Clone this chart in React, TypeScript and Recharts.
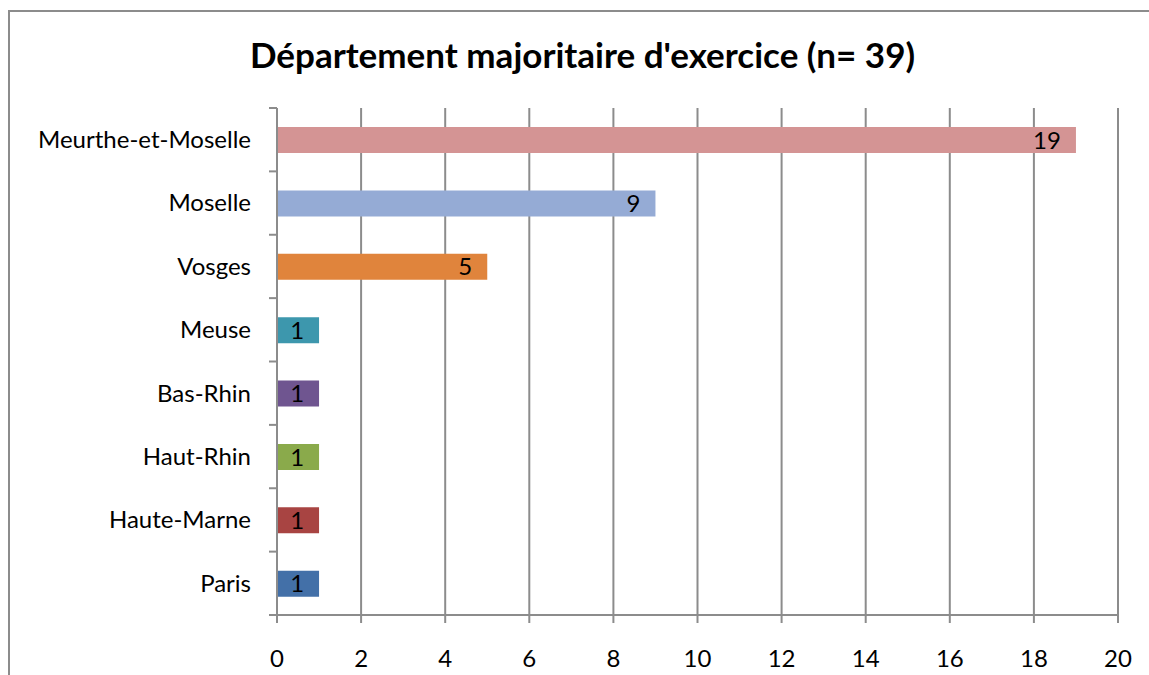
import React from 'react';
import { BarChart, Bar, XAxis, YAxis, CartesianGrid, Cell, LabelList } from 'recharts';

const categories = ['Meurthe-et-Moselle', 'Moselle', 'Vosges', 'Meuse', 'Bas-Rhin', 'Haut-Rhin', 'Haute-Marne', 'Paris'];
const values = [19, 9, 5, 1, 1, 1, 1, 1];
const colors = ['#D49494', '#95ABD5', '#E0843C', '#3D97AD', '#6F5590', '#8AAA4B', '#A84442', '#4370A8'];
const xTicks = [0, 2, 4, 6, 8, 10, 12, 14, 16, 18, 20];
const title = "Département majoritaire d'exercice (n= 39)";

const data = categories.map((name, i) => ({ name, value: values[i] }));

const FONT = 'Lato, "Open Sans", sans-serif';
const AXIS = '#8C8C8C';

const YTick = (props: any) => {
  const { x, y, payload, index, visibleTicksCount } = props;
  const half = payload && typeof payload.offset === 'number' && payload.offset > 0 ? payload.offset : 31.6;
  const lineX1 = x + 18;
  const lineX2 = x + 26;
  const last = index === (visibleTicksCount ?? categories.length) - 1;
  return (
    <g>
      <line x1={lineX1} x2={lineX2} y1={y - half} y2={y - half} stroke={AXIS} strokeWidth={2} />
      {last && <line x1={lineX1} x2={lineX2} y1={y + half} y2={y + half} stroke={AXIS} strokeWidth={2} />}
      <text x={x} y={y} dy="0.35em" textAnchor="end" fontFamily={FONT} fontSize={24} fill="#000">
        {payload.value}
      </text>
    </g>
  );
};

const BarLabel = (props: any) => {
  const { x, y, width, height, value } = props;
  return (
    <text x={x + width - 15} y={y + height / 2} dy="0.36em" textAnchor="end" fontFamily={FONT} fontSize={24} fill="#000">
      {value}
    </text>
  );
};

export default function App() {
  return (
    <div style={{ position: 'absolute', left: 0, top: 0, width: 1149, height: 675, background: '#fff' }}>
      <div style={{ position: 'absolute', left: 8, top: 10, width: 1141, height: 665, borderLeft: '2px solid #8C8C8C', borderTop: '2px solid #8C8C8C', boxSizing: 'border-box' }} />
      <div style={{ position: 'absolute', left: 0, top: 32, width: 1165, textAlign: 'center', fontFamily: FONT, fontWeight: 700, fontSize: 35, lineHeight: '44px', color: '#000' }}>
        {title}
      </div>
      <div style={{ position: 'absolute', left: 0, top: 0 }}>
        <BarChart
          width={1149}
          height={675}
          data={data}
          layout="vertical"
          margin={{ top: 108, right: 31, bottom: 0, left: 0 }}
          barCategoryGap={0}
        >
          <CartesianGrid horizontal={false} vertical={true} stroke={AXIS} strokeWidth={2} />
          <XAxis
            type="number"
            domain={[0, 20]}
            ticks={xTicks}
            interval={0}
            height={60}
            axisLine={{ stroke: AXIS, strokeWidth: 2 }}
            tickLine={{ stroke: AXIS, strokeWidth: 2 }}
            tickSize={8}
            tickMargin={27}
            tick={{ fontFamily: FONT, fontSize: 24, fill: '#000' }}
          />
          <YAxis
            type="category"
            dataKey="name"
            width={277}
            interval={0}
            axisLine={{ stroke: AXIS, strokeWidth: 2 }}
            tickLine={false}
            tickSize={8}
            tickMargin={18}
            tick={<YTick />}
          />
          <Bar dataKey="value" barSize={26} isAnimationActive={false}>
            {data.map((d, i) => (
              <Cell key={d.name} fill={colors[i]} />
            ))}
            <LabelList dataKey="value" content={<BarLabel />} />
          </Bar>
        </BarChart>
      </div>
    </div>
  );
}
